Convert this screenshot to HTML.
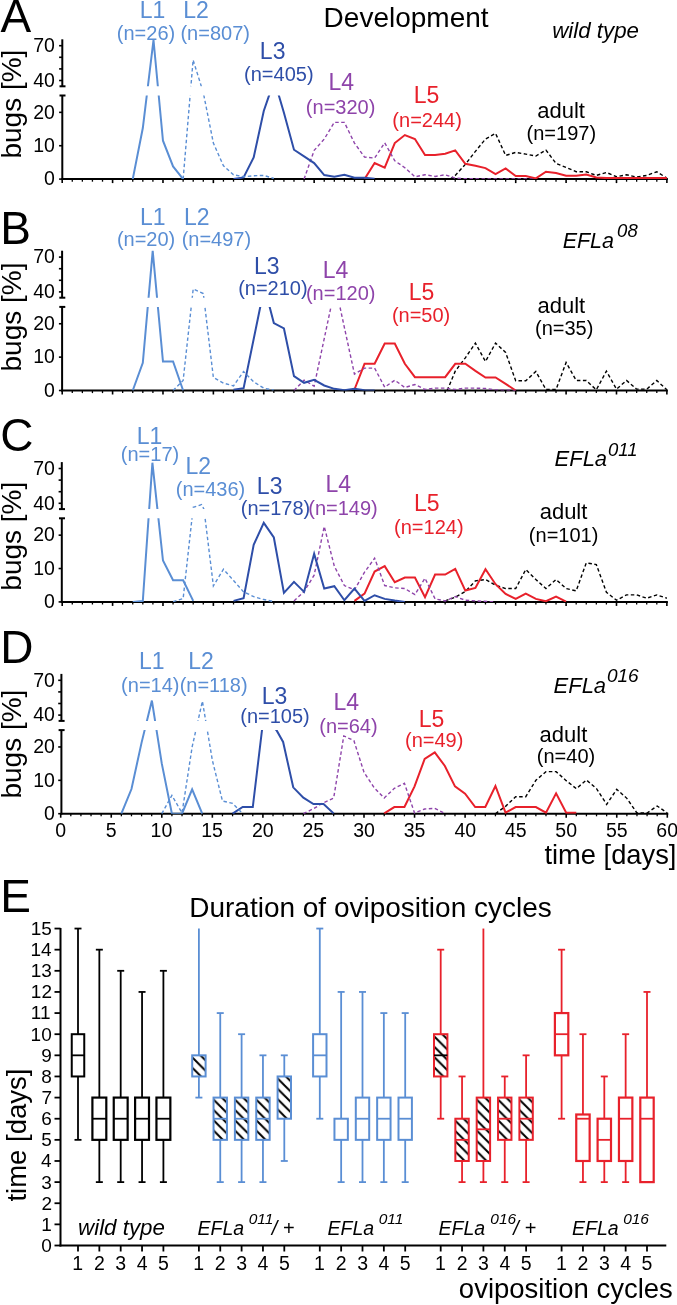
<!DOCTYPE html>
<html><head><meta charset="utf-8"><style>
html,body{margin:0;padding:0;background:#fff;}
body{width:677px;height:1305px;overflow:hidden;font-family:"Liberation Sans",sans-serif;}
svg{display:block;will-change:transform;}
</style></head><body>
<svg width="677" height="1305" viewBox="0 0 677 1305" font-family="Liberation Sans, sans-serif"><text x="0.61" y="31.7" font-size="46" fill="#000000">A</text>
<line x1="61.3" y1="179.1" x2="667.88" y2="179.1" stroke="#000" stroke-width="2"/>
<line x1="62.2" y1="179.1" x2="62.2" y2="183.1" stroke="#000" stroke-width="1.6"/>
<line x1="72.28" y1="179.1" x2="72.28" y2="181.7" stroke="#000" stroke-width="1.3"/>
<line x1="82.36" y1="179.1" x2="82.36" y2="181.7" stroke="#000" stroke-width="1.3"/>
<line x1="92.43" y1="179.1" x2="92.43" y2="181.7" stroke="#000" stroke-width="1.3"/>
<line x1="102.51" y1="179.1" x2="102.51" y2="181.7" stroke="#000" stroke-width="1.3"/>
<line x1="112.59" y1="179.1" x2="112.59" y2="183.1" stroke="#000" stroke-width="1.6"/>
<line x1="122.67" y1="179.1" x2="122.67" y2="181.7" stroke="#000" stroke-width="1.3"/>
<line x1="132.75" y1="179.1" x2="132.75" y2="181.7" stroke="#000" stroke-width="1.3"/>
<line x1="142.82" y1="179.1" x2="142.82" y2="181.7" stroke="#000" stroke-width="1.3"/>
<line x1="152.9" y1="179.1" x2="152.9" y2="181.7" stroke="#000" stroke-width="1.3"/>
<line x1="162.98" y1="179.1" x2="162.98" y2="183.1" stroke="#000" stroke-width="1.6"/>
<line x1="173.06" y1="179.1" x2="173.06" y2="181.7" stroke="#000" stroke-width="1.3"/>
<line x1="183.14" y1="179.1" x2="183.14" y2="181.7" stroke="#000" stroke-width="1.3"/>
<line x1="193.21" y1="179.1" x2="193.21" y2="181.7" stroke="#000" stroke-width="1.3"/>
<line x1="203.29" y1="179.1" x2="203.29" y2="181.7" stroke="#000" stroke-width="1.3"/>
<line x1="213.37" y1="179.1" x2="213.37" y2="183.1" stroke="#000" stroke-width="1.6"/>
<line x1="223.45" y1="179.1" x2="223.45" y2="181.7" stroke="#000" stroke-width="1.3"/>
<line x1="233.53" y1="179.1" x2="233.53" y2="181.7" stroke="#000" stroke-width="1.3"/>
<line x1="243.6" y1="179.1" x2="243.6" y2="181.7" stroke="#000" stroke-width="1.3"/>
<line x1="253.68" y1="179.1" x2="253.68" y2="181.7" stroke="#000" stroke-width="1.3"/>
<line x1="263.76" y1="179.1" x2="263.76" y2="183.1" stroke="#000" stroke-width="1.6"/>
<line x1="273.84" y1="179.1" x2="273.84" y2="181.7" stroke="#000" stroke-width="1.3"/>
<line x1="283.92" y1="179.1" x2="283.92" y2="181.7" stroke="#000" stroke-width="1.3"/>
<line x1="293.99" y1="179.1" x2="293.99" y2="181.7" stroke="#000" stroke-width="1.3"/>
<line x1="304.07" y1="179.1" x2="304.07" y2="181.7" stroke="#000" stroke-width="1.3"/>
<line x1="314.15" y1="179.1" x2="314.15" y2="183.1" stroke="#000" stroke-width="1.6"/>
<line x1="324.23" y1="179.1" x2="324.23" y2="181.7" stroke="#000" stroke-width="1.3"/>
<line x1="334.31" y1="179.1" x2="334.31" y2="181.7" stroke="#000" stroke-width="1.3"/>
<line x1="344.38" y1="179.1" x2="344.38" y2="181.7" stroke="#000" stroke-width="1.3"/>
<line x1="354.46" y1="179.1" x2="354.46" y2="181.7" stroke="#000" stroke-width="1.3"/>
<line x1="364.54" y1="179.1" x2="364.54" y2="183.1" stroke="#000" stroke-width="1.6"/>
<line x1="374.62" y1="179.1" x2="374.62" y2="181.7" stroke="#000" stroke-width="1.3"/>
<line x1="384.7" y1="179.1" x2="384.7" y2="181.7" stroke="#000" stroke-width="1.3"/>
<line x1="394.77" y1="179.1" x2="394.77" y2="181.7" stroke="#000" stroke-width="1.3"/>
<line x1="404.85" y1="179.1" x2="404.85" y2="181.7" stroke="#000" stroke-width="1.3"/>
<line x1="414.93" y1="179.1" x2="414.93" y2="183.1" stroke="#000" stroke-width="1.6"/>
<line x1="425.01" y1="179.1" x2="425.01" y2="181.7" stroke="#000" stroke-width="1.3"/>
<line x1="435.09" y1="179.1" x2="435.09" y2="181.7" stroke="#000" stroke-width="1.3"/>
<line x1="445.16" y1="179.1" x2="445.16" y2="181.7" stroke="#000" stroke-width="1.3"/>
<line x1="455.24" y1="179.1" x2="455.24" y2="181.7" stroke="#000" stroke-width="1.3"/>
<line x1="465.32" y1="179.1" x2="465.32" y2="183.1" stroke="#000" stroke-width="1.6"/>
<line x1="475.4" y1="179.1" x2="475.4" y2="181.7" stroke="#000" stroke-width="1.3"/>
<line x1="485.48" y1="179.1" x2="485.48" y2="181.7" stroke="#000" stroke-width="1.3"/>
<line x1="495.55" y1="179.1" x2="495.55" y2="181.7" stroke="#000" stroke-width="1.3"/>
<line x1="505.63" y1="179.1" x2="505.63" y2="181.7" stroke="#000" stroke-width="1.3"/>
<line x1="515.71" y1="179.1" x2="515.71" y2="183.1" stroke="#000" stroke-width="1.6"/>
<line x1="525.79" y1="179.1" x2="525.79" y2="181.7" stroke="#000" stroke-width="1.3"/>
<line x1="535.87" y1="179.1" x2="535.87" y2="181.7" stroke="#000" stroke-width="1.3"/>
<line x1="545.94" y1="179.1" x2="545.94" y2="181.7" stroke="#000" stroke-width="1.3"/>
<line x1="556.02" y1="179.1" x2="556.02" y2="181.7" stroke="#000" stroke-width="1.3"/>
<line x1="566.1" y1="179.1" x2="566.1" y2="183.1" stroke="#000" stroke-width="1.6"/>
<line x1="576.18" y1="179.1" x2="576.18" y2="181.7" stroke="#000" stroke-width="1.3"/>
<line x1="586.26" y1="179.1" x2="586.26" y2="181.7" stroke="#000" stroke-width="1.3"/>
<line x1="596.33" y1="179.1" x2="596.33" y2="181.7" stroke="#000" stroke-width="1.3"/>
<line x1="606.41" y1="179.1" x2="606.41" y2="181.7" stroke="#000" stroke-width="1.3"/>
<line x1="616.49" y1="179.1" x2="616.49" y2="183.1" stroke="#000" stroke-width="1.6"/>
<line x1="626.57" y1="179.1" x2="626.57" y2="181.7" stroke="#000" stroke-width="1.3"/>
<line x1="636.65" y1="179.1" x2="636.65" y2="181.7" stroke="#000" stroke-width="1.3"/>
<line x1="646.72" y1="179.1" x2="646.72" y2="181.7" stroke="#000" stroke-width="1.3"/>
<line x1="656.8" y1="179.1" x2="656.8" y2="181.7" stroke="#000" stroke-width="1.3"/>
<line x1="666.88" y1="179.1" x2="666.88" y2="183.1" stroke="#000" stroke-width="1.6"/>
<line x1="62.3" y1="180.1" x2="62.3" y2="95.5" stroke="#000" stroke-width="2"/>
<line x1="59.5" y1="95.5" x2="65.5" y2="95.5" stroke="#000" stroke-width="2"/>
<line x1="59.1" y1="179.1" x2="62.3" y2="179.1" stroke="#000" stroke-width="1.6"/>
<line x1="59.1" y1="145.73" x2="62.3" y2="145.73" stroke="#000" stroke-width="1.6"/>
<line x1="59.1" y1="112.36" x2="62.3" y2="112.36" stroke="#000" stroke-width="1.6"/>
<line x1="62.3" y1="86.3" x2="62.3" y2="39.3" stroke="#000" stroke-width="2"/>
<line x1="59.5" y1="86.3" x2="65.5" y2="86.3" stroke="#000" stroke-width="2"/>
<line x1="59.1" y1="80.5" x2="62.3" y2="80.5" stroke="#000" stroke-width="1.6"/>
<line x1="59.1" y1="68.9" x2="62.3" y2="68.9" stroke="#000" stroke-width="1.6"/>
<line x1="59.1" y1="57.3" x2="62.3" y2="57.3" stroke="#000" stroke-width="1.6"/>
<line x1="59.1" y1="45.7" x2="62.3" y2="45.7" stroke="#000" stroke-width="1.6"/>
<text x="44.12" y="185.3" font-size="19.5" fill="#000000">0</text>
<text x="33.27" y="151.93" font-size="19.5" fill="#000000">10</text>
<text x="33.27" y="118.56" font-size="19.5" fill="#000000">20</text>
<text x="33.27" y="86.7" font-size="19.5" fill="#000000">40</text>
<text x="33.27" y="51.9" font-size="19.5" fill="#000000">70</text>
<clipPath id="clp0"><rect x="63" y="95.5" width="610" height="83.6"/><rect x="63" y="36.3" width="610" height="50"/></clipPath>
<g clip-path="url(#clp0)" fill="none" stroke-linejoin="miter" stroke-miterlimit="4">
<path d="M450.2,179.1 L455.24,175.43 L465.32,164.42 L475.4,151.4 L485.48,139.06 L495.55,133.38 L505.63,155.41 L515.71,152.4 L525.79,154.07 L535.87,156.07 L545.94,150.07 L556.02,163.42 L566.1,167.42 L576.18,171.76 L586.26,171.76 L596.33,175.43 L606.41,172.43 L616.49,176.76 L626.57,174.76 L636.65,177.1 L646.72,175.43 L656.8,171.76 L666.88,178.1" stroke="#000000" stroke-width="1.4" stroke-dasharray="3.5,2.5"/>
<path d="M364.54,179.1 L374.62,163.08 L384.7,167.75 L394.77,143.06 L404.85,135.05 L414.93,139.06 L425.01,155.07 L435.09,155.07 L445.16,153.74 L455.24,150.4 L465.32,163.75 L475.4,165.75 L485.48,168.09 L495.55,174.09 L505.63,168.42 L515.71,176.1 L525.79,176.1 L535.87,178.43 L545.94,171.76 L556.02,173.09 L566.1,175.76 L576.18,175.76 L586.26,174.43 L596.33,177.43 L606.41,178.1 L666.88,178.1" stroke="#e8212b" stroke-width="2.0"/>
<path d="M304.07,179.1 L314.15,150.4 L324.23,139.06 L334.31,122.37 L344.38,122.37 L354.46,143.06 L364.54,157.08 L374.62,158.08 L384.7,142.73 L394.77,160.75 L404.85,167.75 L414.93,176.76 L425.01,174.76 L435.09,176.43 L445.16,174.76 L455.24,178.1 L465.32,178.77 L535.87,179.1" stroke="#8e44aa" stroke-width="1.4" stroke-dasharray="3.5,2.5"/>
<path d="M233.53,179.1 L243.6,177.43 L253.68,157.41 L263.76,111.03 L269.2,95.1 L271,89 L277,89 L278.7,95.1 L283.92,112.69 L293.99,149.73 L304.07,156.41 L314.15,163.08 L324.23,175.1 L334.31,176.76 L344.38,174.76 L354.46,177.77 L364.54,177.77 L374.62,178.77" stroke="#2e4ea8" stroke-width="2.0"/>
<path d="M183.14,179.1 L193.1,60 L203.3,92.6 L213.37,143.06 L223.45,165.75 L233.53,174.76 L243.6,176.76 L253.68,175.76 L263.76,175.43 L273.84,178.43" stroke="#5a8ed4" stroke-width="1.4" stroke-dasharray="3.5,2.5"/>
<path d="M132.75,179.1 L142.82,128.04 L153.5,40 L162.98,140.72 L173.06,166.42 L183.14,179.1" stroke="#5a8ed4" stroke-width="2.0"/>
</g>
<text x="139.83" y="17.6" font-size="23" fill="#5a8ed4">L1</text>
<text x="116.82" y="39.7" font-size="20" fill="#5a8ed4">(n=26)</text>
<text x="183.34" y="17.6" font-size="23" fill="#5a8ed4">L2</text>
<text x="180.45" y="39.7" font-size="20" fill="#5a8ed4">(n=807)</text>
<text x="259.87" y="58.8" font-size="23" fill="#2e4ea8">L3</text>
<text x="244.05" y="80.5" font-size="20" fill="#2e4ea8">(n=405)</text>
<text x="328.4" y="89.9" font-size="23" fill="#8e44aa">L4</text>
<text x="305.85" y="113.7" font-size="20" fill="#8e44aa">(n=320)</text>
<text x="413.75" y="103.1" font-size="23" fill="#e8212b">L5</text>
<text x="392.35" y="126.7" font-size="20" fill="#e8212b">(n=244)</text>
<text x="537.26" y="117.9" font-size="22" fill="#000000">adult</text>
<text x="526.55" y="140.2" font-size="20" fill="#000000">(n=197)</text>
<text transform="rotate(-90)" x="-158.58" y="21" font-size="28" fill="#000000">bugs [%]</text>
<text x="552.19" y="38.4" font-size="22.3" fill="#000000" font-style="italic">wild type</text>
<text x="0.23" y="243.6" font-size="46" fill="#000000">B</text>
<line x1="61.1" y1="390.5" x2="667.88" y2="390.5" stroke="#000" stroke-width="2"/>
<line x1="62.2" y1="390.5" x2="62.2" y2="394.5" stroke="#000" stroke-width="1.6"/>
<line x1="72.28" y1="390.5" x2="72.28" y2="393.1" stroke="#000" stroke-width="1.3"/>
<line x1="82.36" y1="390.5" x2="82.36" y2="393.1" stroke="#000" stroke-width="1.3"/>
<line x1="92.43" y1="390.5" x2="92.43" y2="393.1" stroke="#000" stroke-width="1.3"/>
<line x1="102.51" y1="390.5" x2="102.51" y2="393.1" stroke="#000" stroke-width="1.3"/>
<line x1="112.59" y1="390.5" x2="112.59" y2="394.5" stroke="#000" stroke-width="1.6"/>
<line x1="122.67" y1="390.5" x2="122.67" y2="393.1" stroke="#000" stroke-width="1.3"/>
<line x1="132.75" y1="390.5" x2="132.75" y2="393.1" stroke="#000" stroke-width="1.3"/>
<line x1="142.82" y1="390.5" x2="142.82" y2="393.1" stroke="#000" stroke-width="1.3"/>
<line x1="152.9" y1="390.5" x2="152.9" y2="393.1" stroke="#000" stroke-width="1.3"/>
<line x1="162.98" y1="390.5" x2="162.98" y2="394.5" stroke="#000" stroke-width="1.6"/>
<line x1="173.06" y1="390.5" x2="173.06" y2="393.1" stroke="#000" stroke-width="1.3"/>
<line x1="183.14" y1="390.5" x2="183.14" y2="393.1" stroke="#000" stroke-width="1.3"/>
<line x1="193.21" y1="390.5" x2="193.21" y2="393.1" stroke="#000" stroke-width="1.3"/>
<line x1="203.29" y1="390.5" x2="203.29" y2="393.1" stroke="#000" stroke-width="1.3"/>
<line x1="213.37" y1="390.5" x2="213.37" y2="394.5" stroke="#000" stroke-width="1.6"/>
<line x1="223.45" y1="390.5" x2="223.45" y2="393.1" stroke="#000" stroke-width="1.3"/>
<line x1="233.53" y1="390.5" x2="233.53" y2="393.1" stroke="#000" stroke-width="1.3"/>
<line x1="243.6" y1="390.5" x2="243.6" y2="393.1" stroke="#000" stroke-width="1.3"/>
<line x1="253.68" y1="390.5" x2="253.68" y2="393.1" stroke="#000" stroke-width="1.3"/>
<line x1="263.76" y1="390.5" x2="263.76" y2="394.5" stroke="#000" stroke-width="1.6"/>
<line x1="273.84" y1="390.5" x2="273.84" y2="393.1" stroke="#000" stroke-width="1.3"/>
<line x1="283.92" y1="390.5" x2="283.92" y2="393.1" stroke="#000" stroke-width="1.3"/>
<line x1="293.99" y1="390.5" x2="293.99" y2="393.1" stroke="#000" stroke-width="1.3"/>
<line x1="304.07" y1="390.5" x2="304.07" y2="393.1" stroke="#000" stroke-width="1.3"/>
<line x1="314.15" y1="390.5" x2="314.15" y2="394.5" stroke="#000" stroke-width="1.6"/>
<line x1="324.23" y1="390.5" x2="324.23" y2="393.1" stroke="#000" stroke-width="1.3"/>
<line x1="334.31" y1="390.5" x2="334.31" y2="393.1" stroke="#000" stroke-width="1.3"/>
<line x1="344.38" y1="390.5" x2="344.38" y2="393.1" stroke="#000" stroke-width="1.3"/>
<line x1="354.46" y1="390.5" x2="354.46" y2="393.1" stroke="#000" stroke-width="1.3"/>
<line x1="364.54" y1="390.5" x2="364.54" y2="394.5" stroke="#000" stroke-width="1.6"/>
<line x1="374.62" y1="390.5" x2="374.62" y2="393.1" stroke="#000" stroke-width="1.3"/>
<line x1="384.7" y1="390.5" x2="384.7" y2="393.1" stroke="#000" stroke-width="1.3"/>
<line x1="394.77" y1="390.5" x2="394.77" y2="393.1" stroke="#000" stroke-width="1.3"/>
<line x1="404.85" y1="390.5" x2="404.85" y2="393.1" stroke="#000" stroke-width="1.3"/>
<line x1="414.93" y1="390.5" x2="414.93" y2="394.5" stroke="#000" stroke-width="1.6"/>
<line x1="425.01" y1="390.5" x2="425.01" y2="393.1" stroke="#000" stroke-width="1.3"/>
<line x1="435.09" y1="390.5" x2="435.09" y2="393.1" stroke="#000" stroke-width="1.3"/>
<line x1="445.16" y1="390.5" x2="445.16" y2="393.1" stroke="#000" stroke-width="1.3"/>
<line x1="455.24" y1="390.5" x2="455.24" y2="393.1" stroke="#000" stroke-width="1.3"/>
<line x1="465.32" y1="390.5" x2="465.32" y2="394.5" stroke="#000" stroke-width="1.6"/>
<line x1="475.4" y1="390.5" x2="475.4" y2="393.1" stroke="#000" stroke-width="1.3"/>
<line x1="485.48" y1="390.5" x2="485.48" y2="393.1" stroke="#000" stroke-width="1.3"/>
<line x1="495.55" y1="390.5" x2="495.55" y2="393.1" stroke="#000" stroke-width="1.3"/>
<line x1="505.63" y1="390.5" x2="505.63" y2="393.1" stroke="#000" stroke-width="1.3"/>
<line x1="515.71" y1="390.5" x2="515.71" y2="394.5" stroke="#000" stroke-width="1.6"/>
<line x1="525.79" y1="390.5" x2="525.79" y2="393.1" stroke="#000" stroke-width="1.3"/>
<line x1="535.87" y1="390.5" x2="535.87" y2="393.1" stroke="#000" stroke-width="1.3"/>
<line x1="545.94" y1="390.5" x2="545.94" y2="393.1" stroke="#000" stroke-width="1.3"/>
<line x1="556.02" y1="390.5" x2="556.02" y2="393.1" stroke="#000" stroke-width="1.3"/>
<line x1="566.1" y1="390.5" x2="566.1" y2="394.5" stroke="#000" stroke-width="1.6"/>
<line x1="576.18" y1="390.5" x2="576.18" y2="393.1" stroke="#000" stroke-width="1.3"/>
<line x1="586.26" y1="390.5" x2="586.26" y2="393.1" stroke="#000" stroke-width="1.3"/>
<line x1="596.33" y1="390.5" x2="596.33" y2="393.1" stroke="#000" stroke-width="1.3"/>
<line x1="606.41" y1="390.5" x2="606.41" y2="393.1" stroke="#000" stroke-width="1.3"/>
<line x1="616.49" y1="390.5" x2="616.49" y2="394.5" stroke="#000" stroke-width="1.6"/>
<line x1="626.57" y1="390.5" x2="626.57" y2="393.1" stroke="#000" stroke-width="1.3"/>
<line x1="636.65" y1="390.5" x2="636.65" y2="393.1" stroke="#000" stroke-width="1.3"/>
<line x1="646.72" y1="390.5" x2="646.72" y2="393.1" stroke="#000" stroke-width="1.3"/>
<line x1="656.8" y1="390.5" x2="656.8" y2="393.1" stroke="#000" stroke-width="1.3"/>
<line x1="666.88" y1="390.5" x2="666.88" y2="394.5" stroke="#000" stroke-width="1.6"/>
<line x1="62.1" y1="391.5" x2="62.1" y2="306.9" stroke="#000" stroke-width="2"/>
<line x1="59.3" y1="306.9" x2="65.3" y2="306.9" stroke="#000" stroke-width="2"/>
<line x1="58.9" y1="390.5" x2="62.1" y2="390.5" stroke="#000" stroke-width="1.6"/>
<line x1="58.9" y1="357.13" x2="62.1" y2="357.13" stroke="#000" stroke-width="1.6"/>
<line x1="58.9" y1="323.76" x2="62.1" y2="323.76" stroke="#000" stroke-width="1.6"/>
<line x1="62.1" y1="297.7" x2="62.1" y2="250.7" stroke="#000" stroke-width="2"/>
<line x1="59.3" y1="297.7" x2="65.3" y2="297.7" stroke="#000" stroke-width="2"/>
<line x1="58.9" y1="291.9" x2="62.1" y2="291.9" stroke="#000" stroke-width="1.6"/>
<line x1="58.9" y1="280.3" x2="62.1" y2="280.3" stroke="#000" stroke-width="1.6"/>
<line x1="58.9" y1="268.7" x2="62.1" y2="268.7" stroke="#000" stroke-width="1.6"/>
<line x1="58.9" y1="257.1" x2="62.1" y2="257.1" stroke="#000" stroke-width="1.6"/>
<text x="44.12" y="396.7" font-size="19.5" fill="#000000">0</text>
<text x="33.27" y="363.33" font-size="19.5" fill="#000000">10</text>
<text x="33.27" y="329.96" font-size="19.5" fill="#000000">20</text>
<text x="33.27" y="298.1" font-size="19.5" fill="#000000">40</text>
<text x="33.27" y="263.3" font-size="19.5" fill="#000000">70</text>
<clipPath id="clp1"><rect x="63" y="306.9" width="610" height="83.6"/><rect x="63" y="247.7" width="610" height="50"/></clipPath>
<g clip-path="url(#clp1)" fill="none" stroke-linejoin="miter" stroke-miterlimit="4">
<path d="M447.18,390.5 L455.24,371.15 L465.32,357.8 L475.4,343.11 L485.48,361.47 L495.55,343.11 L505.63,352.46 L515.71,380.82 L525.79,380.82 L535.87,371.48 L545.94,389.5 L556.02,389.5 L566.1,362.47 L576.18,380.49 L586.26,380.49 L596.33,389.83 L606.41,371.15 L616.49,389.17 L626.57,380.49 L636.65,389.17 L646.72,389.17 L656.8,380.49 L666.88,389.83" stroke="#000000" stroke-width="1.4" stroke-dasharray="3.5,2.5"/>
<path d="M354.46,389.5 L364.54,363.8 L374.62,363.8 L384.7,343.45 L394.77,343.45 L404.85,363.8 L414.93,377.15 L425.01,377.15 L435.09,377.15 L445.16,377.15 L455.24,363.8 L465.32,363.8 L475.4,370.81 L485.48,377.49 L495.55,377.49 L505.63,383.83 L515.71,390.5" stroke="#e8212b" stroke-width="2.0"/>
<path d="M293.99,390.5 L304.07,380.16 L314.15,386.16 L331,306.7 L332,301.4 L339,301.4 L339.9,306.7 L354.46,374.15 L364.54,368.14 L374.62,368.14 L384.7,387.16 L394.77,380.16 L404.85,387.5 L414.93,384.49 L425.01,389.5 L435.09,388.16 L445.16,388.16 L455.24,389.5 L465.32,388.16 L475.4,388.16 L485.48,388.5 L495.55,389.83 L515.71,390.5" stroke="#8e44aa" stroke-width="1.4" stroke-dasharray="3.5,2.5"/>
<path d="M233.53,389.83 L243.6,388.16 L260.3,306.7 L261.5,301.4 L268.5,301.4 L269.6,306.7 L273.84,323.09 L283.92,328.43 L293.99,376.15 L304.07,382.82 L314.15,379.82 L324.23,385.49 L334.31,388.83 L344.38,390.17 L354.46,388.83 L364.54,390.17 L374.62,390.5" stroke="#2e4ea8" stroke-width="2.0"/>
<path d="M173.06,390.5 L183.14,380.49 L193.2,288.9 L203.3,293.5 L213.37,377.49 L223.45,383.16 L233.53,385.83 L243.6,371.48 L253.68,381.82 L263.76,388.16 L273.84,390.17" stroke="#5a8ed4" stroke-width="1.4" stroke-dasharray="3.5,2.5"/>
<path d="M132.75,390.5 L142.82,362.8 L152.7,250.9 L162.98,361.47 L173.06,361.47 L183.14,390.5" stroke="#5a8ed4" stroke-width="2.0"/>
</g>
<text x="140.03" y="224.5" font-size="23" fill="#5a8ed4">L1</text>
<text x="116.92" y="246" font-size="20" fill="#5a8ed4">(n=20)</text>
<text x="184.04" y="224.5" font-size="23" fill="#5a8ed4">L2</text>
<text x="181.65" y="246" font-size="20" fill="#5a8ed4">(n=497)</text>
<text x="254.07" y="273.6" font-size="23" fill="#2e4ea8">L3</text>
<text x="238.15" y="295" font-size="20" fill="#2e4ea8">(n=210)</text>
<text x="322.8" y="277.8" font-size="23" fill="#8e44aa">L4</text>
<text x="305.95" y="299.5" font-size="20" fill="#8e44aa">(n=120)</text>
<text x="408.65" y="299.5" font-size="23" fill="#e8212b">L5</text>
<text x="391.92" y="322.4" font-size="20" fill="#e8212b">(n=50)</text>
<text x="537.46" y="312.8" font-size="22" fill="#000000">adult</text>
<text x="535.02" y="334.5" font-size="20" fill="#000000">(n=35)</text>
<text transform="rotate(-90)" x="-371.48" y="21" font-size="28" fill="#000000">bugs [%]</text>
<text x="562.64" y="247.8" font-size="21.5" fill="#000000" font-style="italic">EFLa</text>
<text x="617.1" y="236.9" font-size="18.5" fill="#000000" font-style="italic">08</text>
<text x="0.36" y="450.6" font-size="46" fill="#000000">C</text>
<line x1="60.8" y1="601.9" x2="667.88" y2="601.9" stroke="#000" stroke-width="2"/>
<line x1="62.2" y1="601.9" x2="62.2" y2="605.9" stroke="#000" stroke-width="1.6"/>
<line x1="72.28" y1="601.9" x2="72.28" y2="604.5" stroke="#000" stroke-width="1.3"/>
<line x1="82.36" y1="601.9" x2="82.36" y2="604.5" stroke="#000" stroke-width="1.3"/>
<line x1="92.43" y1="601.9" x2="92.43" y2="604.5" stroke="#000" stroke-width="1.3"/>
<line x1="102.51" y1="601.9" x2="102.51" y2="604.5" stroke="#000" stroke-width="1.3"/>
<line x1="112.59" y1="601.9" x2="112.59" y2="605.9" stroke="#000" stroke-width="1.6"/>
<line x1="122.67" y1="601.9" x2="122.67" y2="604.5" stroke="#000" stroke-width="1.3"/>
<line x1="132.75" y1="601.9" x2="132.75" y2="604.5" stroke="#000" stroke-width="1.3"/>
<line x1="142.82" y1="601.9" x2="142.82" y2="604.5" stroke="#000" stroke-width="1.3"/>
<line x1="152.9" y1="601.9" x2="152.9" y2="604.5" stroke="#000" stroke-width="1.3"/>
<line x1="162.98" y1="601.9" x2="162.98" y2="605.9" stroke="#000" stroke-width="1.6"/>
<line x1="173.06" y1="601.9" x2="173.06" y2="604.5" stroke="#000" stroke-width="1.3"/>
<line x1="183.14" y1="601.9" x2="183.14" y2="604.5" stroke="#000" stroke-width="1.3"/>
<line x1="193.21" y1="601.9" x2="193.21" y2="604.5" stroke="#000" stroke-width="1.3"/>
<line x1="203.29" y1="601.9" x2="203.29" y2="604.5" stroke="#000" stroke-width="1.3"/>
<line x1="213.37" y1="601.9" x2="213.37" y2="605.9" stroke="#000" stroke-width="1.6"/>
<line x1="223.45" y1="601.9" x2="223.45" y2="604.5" stroke="#000" stroke-width="1.3"/>
<line x1="233.53" y1="601.9" x2="233.53" y2="604.5" stroke="#000" stroke-width="1.3"/>
<line x1="243.6" y1="601.9" x2="243.6" y2="604.5" stroke="#000" stroke-width="1.3"/>
<line x1="253.68" y1="601.9" x2="253.68" y2="604.5" stroke="#000" stroke-width="1.3"/>
<line x1="263.76" y1="601.9" x2="263.76" y2="605.9" stroke="#000" stroke-width="1.6"/>
<line x1="273.84" y1="601.9" x2="273.84" y2="604.5" stroke="#000" stroke-width="1.3"/>
<line x1="283.92" y1="601.9" x2="283.92" y2="604.5" stroke="#000" stroke-width="1.3"/>
<line x1="293.99" y1="601.9" x2="293.99" y2="604.5" stroke="#000" stroke-width="1.3"/>
<line x1="304.07" y1="601.9" x2="304.07" y2="604.5" stroke="#000" stroke-width="1.3"/>
<line x1="314.15" y1="601.9" x2="314.15" y2="605.9" stroke="#000" stroke-width="1.6"/>
<line x1="324.23" y1="601.9" x2="324.23" y2="604.5" stroke="#000" stroke-width="1.3"/>
<line x1="334.31" y1="601.9" x2="334.31" y2="604.5" stroke="#000" stroke-width="1.3"/>
<line x1="344.38" y1="601.9" x2="344.38" y2="604.5" stroke="#000" stroke-width="1.3"/>
<line x1="354.46" y1="601.9" x2="354.46" y2="604.5" stroke="#000" stroke-width="1.3"/>
<line x1="364.54" y1="601.9" x2="364.54" y2="605.9" stroke="#000" stroke-width="1.6"/>
<line x1="374.62" y1="601.9" x2="374.62" y2="604.5" stroke="#000" stroke-width="1.3"/>
<line x1="384.7" y1="601.9" x2="384.7" y2="604.5" stroke="#000" stroke-width="1.3"/>
<line x1="394.77" y1="601.9" x2="394.77" y2="604.5" stroke="#000" stroke-width="1.3"/>
<line x1="404.85" y1="601.9" x2="404.85" y2="604.5" stroke="#000" stroke-width="1.3"/>
<line x1="414.93" y1="601.9" x2="414.93" y2="605.9" stroke="#000" stroke-width="1.6"/>
<line x1="425.01" y1="601.9" x2="425.01" y2="604.5" stroke="#000" stroke-width="1.3"/>
<line x1="435.09" y1="601.9" x2="435.09" y2="604.5" stroke="#000" stroke-width="1.3"/>
<line x1="445.16" y1="601.9" x2="445.16" y2="604.5" stroke="#000" stroke-width="1.3"/>
<line x1="455.24" y1="601.9" x2="455.24" y2="604.5" stroke="#000" stroke-width="1.3"/>
<line x1="465.32" y1="601.9" x2="465.32" y2="605.9" stroke="#000" stroke-width="1.6"/>
<line x1="475.4" y1="601.9" x2="475.4" y2="604.5" stroke="#000" stroke-width="1.3"/>
<line x1="485.48" y1="601.9" x2="485.48" y2="604.5" stroke="#000" stroke-width="1.3"/>
<line x1="495.55" y1="601.9" x2="495.55" y2="604.5" stroke="#000" stroke-width="1.3"/>
<line x1="505.63" y1="601.9" x2="505.63" y2="604.5" stroke="#000" stroke-width="1.3"/>
<line x1="515.71" y1="601.9" x2="515.71" y2="605.9" stroke="#000" stroke-width="1.6"/>
<line x1="525.79" y1="601.9" x2="525.79" y2="604.5" stroke="#000" stroke-width="1.3"/>
<line x1="535.87" y1="601.9" x2="535.87" y2="604.5" stroke="#000" stroke-width="1.3"/>
<line x1="545.94" y1="601.9" x2="545.94" y2="604.5" stroke="#000" stroke-width="1.3"/>
<line x1="556.02" y1="601.9" x2="556.02" y2="604.5" stroke="#000" stroke-width="1.3"/>
<line x1="566.1" y1="601.9" x2="566.1" y2="605.9" stroke="#000" stroke-width="1.6"/>
<line x1="576.18" y1="601.9" x2="576.18" y2="604.5" stroke="#000" stroke-width="1.3"/>
<line x1="586.26" y1="601.9" x2="586.26" y2="604.5" stroke="#000" stroke-width="1.3"/>
<line x1="596.33" y1="601.9" x2="596.33" y2="604.5" stroke="#000" stroke-width="1.3"/>
<line x1="606.41" y1="601.9" x2="606.41" y2="604.5" stroke="#000" stroke-width="1.3"/>
<line x1="616.49" y1="601.9" x2="616.49" y2="605.9" stroke="#000" stroke-width="1.6"/>
<line x1="626.57" y1="601.9" x2="626.57" y2="604.5" stroke="#000" stroke-width="1.3"/>
<line x1="636.65" y1="601.9" x2="636.65" y2="604.5" stroke="#000" stroke-width="1.3"/>
<line x1="646.72" y1="601.9" x2="646.72" y2="604.5" stroke="#000" stroke-width="1.3"/>
<line x1="656.8" y1="601.9" x2="656.8" y2="604.5" stroke="#000" stroke-width="1.3"/>
<line x1="666.88" y1="601.9" x2="666.88" y2="605.9" stroke="#000" stroke-width="1.6"/>
<line x1="61.8" y1="602.9" x2="61.8" y2="518.3" stroke="#000" stroke-width="2"/>
<line x1="59" y1="518.3" x2="65" y2="518.3" stroke="#000" stroke-width="2"/>
<line x1="58.6" y1="601.9" x2="61.8" y2="601.9" stroke="#000" stroke-width="1.6"/>
<line x1="58.6" y1="568.53" x2="61.8" y2="568.53" stroke="#000" stroke-width="1.6"/>
<line x1="58.6" y1="535.16" x2="61.8" y2="535.16" stroke="#000" stroke-width="1.6"/>
<line x1="61.8" y1="509.1" x2="61.8" y2="462.1" stroke="#000" stroke-width="2"/>
<line x1="59" y1="509.1" x2="65" y2="509.1" stroke="#000" stroke-width="2"/>
<line x1="58.6" y1="503.3" x2="61.8" y2="503.3" stroke="#000" stroke-width="1.6"/>
<line x1="58.6" y1="491.7" x2="61.8" y2="491.7" stroke="#000" stroke-width="1.6"/>
<line x1="58.6" y1="480.1" x2="61.8" y2="480.1" stroke="#000" stroke-width="1.6"/>
<line x1="58.6" y1="468.5" x2="61.8" y2="468.5" stroke="#000" stroke-width="1.6"/>
<text x="44.12" y="608.1" font-size="19.5" fill="#000000">0</text>
<text x="33.27" y="574.73" font-size="19.5" fill="#000000">10</text>
<text x="33.27" y="541.36" font-size="19.5" fill="#000000">20</text>
<text x="33.27" y="509.5" font-size="19.5" fill="#000000">40</text>
<text x="33.27" y="474.7" font-size="19.5" fill="#000000">70</text>
<clipPath id="clp2"><rect x="63" y="518.3" width="610" height="83.6"/><rect x="63" y="459.1" width="610" height="50"/></clipPath>
<g clip-path="url(#clp2)" fill="none" stroke-linejoin="miter" stroke-miterlimit="4">
<path d="M445.16,600.9 L455.24,597.23 L465.32,591.56 L475.4,580.88 L485.48,579.54 L495.55,585.21 L505.63,588.55 L515.71,588.55 L525.79,569.53 L535.87,579.54 L545.94,588.55 L556.02,579.54 L566.1,588.55 L576.18,590.89 L586.26,562.86 L596.33,564.53 L606.41,592.22 L616.49,600.23 L626.57,594.89 L636.65,594.89 L646.72,598.23 L656.8,594.89 L666.88,598.23" stroke="#000000" stroke-width="1.4" stroke-dasharray="3.5,2.5"/>
<path d="M354.46,600.9 L364.54,593.56 L374.62,571.53 L384.7,566.19 L394.77,582.21 L404.85,577.54 L414.93,577.54 L425.01,597.23 L435.09,574.54 L445.16,574.54 L455.24,568.86 L465.32,590.55 L475.4,587.88 L485.48,569.2 L495.55,584.21 L505.63,593.89 L515.71,598.9 L525.79,593.56 L535.87,598.9 L545.94,601.23 L556.02,596.56 L566.1,601.57" stroke="#e8212b" stroke-width="2.0"/>
<path d="M293.99,600.9 L304.07,591.56 L314.15,575.2 L324.23,526.48 L334.31,566.19 L344.38,585.55 L354.46,589.89 L364.54,572.2 L374.62,558.19 L384.7,585.55 L394.77,587.88 L404.85,588.55 L414.93,594.56 L425.01,578.21 L435.09,598.9 L445.16,600.9 L455.24,596.56 L465.32,600.23 L475.4,600.9 L495.55,601.9" stroke="#8e44aa" stroke-width="1.4" stroke-dasharray="3.5,2.5"/>
<path d="M233.53,600.9 L243.6,598.23 L253.68,544.84 L263.76,522.81 L273.84,537.5 L283.92,592.89 L293.99,581.88 L304.07,591.89 L314.15,553.85 L324.23,588.55 L334.31,586.22 L344.38,600.23 L354.46,588.55 L364.54,600.9 L374.62,595.23 L384.7,598.9 L394.77,600.57 L404.85,601.9" stroke="#2e4ea8" stroke-width="2.0"/>
<path d="M173.06,601.57 L183.14,598.56 L193.2,507.3 L201.5,504.6 L204,509.3 L213.37,585.88 L223.45,569.2 L233.53,580.54 L243.6,591.89 L253.68,596.56 L263.76,599.56 L273.84,601.57" stroke="#5a8ed4" stroke-width="1.4" stroke-dasharray="3.5,2.5"/>
<path d="M132.75,601.9 L142.82,600.9 L152.4,462.7 L162.98,560.52 L173.06,580.21 L183.14,580.21 L193.21,600.9" stroke="#5a8ed4" stroke-width="2.0"/>
</g>
<text x="136.83" y="443.8" font-size="23" fill="#5a8ed4">L1</text>
<text x="120.82" y="461.4" font-size="20" fill="#5a8ed4">(n=17)</text>
<text x="185.54" y="473.5" font-size="23" fill="#5a8ed4">L2</text>
<text x="175.75" y="496.1" font-size="20" fill="#5a8ed4">(n=436)</text>
<text x="256.87" y="493.7" font-size="23" fill="#2e4ea8">L3</text>
<text x="240.75" y="515.4" font-size="20" fill="#2e4ea8">(n=178)</text>
<text x="325.4" y="491.8" font-size="23" fill="#8e44aa">L4</text>
<text x="308.25" y="514.7" font-size="20" fill="#8e44aa">(n=149)</text>
<text x="414.05" y="511.4" font-size="23" fill="#e8212b">L5</text>
<text x="394.05" y="533.9" font-size="20" fill="#e8212b">(n=124)</text>
<text x="539.66" y="519" font-size="22" fill="#000000">adult</text>
<text x="528.85" y="542" font-size="20" fill="#000000">(n=101)</text>
<text transform="rotate(-90)" x="-590.68" y="21" font-size="28" fill="#000000">bugs [%]</text>
<text x="554.52" y="466.4" font-size="22" fill="#000000" font-style="italic">EFLa</text>
<text x="608" y="455.9" font-size="18.5" fill="#000000" font-style="italic">011</text>
<text x="0.23" y="663" font-size="46" fill="#000000">D</text>
<line x1="60.4" y1="813.7" x2="668.3" y2="813.7" stroke="#000" stroke-width="2"/>
<line x1="60.7" y1="813.7" x2="60.7" y2="817.7" stroke="#000" stroke-width="1.6"/>
<line x1="70.81" y1="813.7" x2="70.81" y2="816.3" stroke="#000" stroke-width="1.3"/>
<line x1="80.92" y1="813.7" x2="80.92" y2="816.3" stroke="#000" stroke-width="1.3"/>
<line x1="91.03" y1="813.7" x2="91.03" y2="816.3" stroke="#000" stroke-width="1.3"/>
<line x1="101.14" y1="813.7" x2="101.14" y2="816.3" stroke="#000" stroke-width="1.3"/>
<line x1="111.25" y1="813.7" x2="111.25" y2="817.7" stroke="#000" stroke-width="1.6"/>
<line x1="121.36" y1="813.7" x2="121.36" y2="816.3" stroke="#000" stroke-width="1.3"/>
<line x1="131.47" y1="813.7" x2="131.47" y2="816.3" stroke="#000" stroke-width="1.3"/>
<line x1="141.58" y1="813.7" x2="141.58" y2="816.3" stroke="#000" stroke-width="1.3"/>
<line x1="151.69" y1="813.7" x2="151.69" y2="816.3" stroke="#000" stroke-width="1.3"/>
<line x1="161.8" y1="813.7" x2="161.8" y2="817.7" stroke="#000" stroke-width="1.6"/>
<line x1="171.91" y1="813.7" x2="171.91" y2="816.3" stroke="#000" stroke-width="1.3"/>
<line x1="182.02" y1="813.7" x2="182.02" y2="816.3" stroke="#000" stroke-width="1.3"/>
<line x1="192.13" y1="813.7" x2="192.13" y2="816.3" stroke="#000" stroke-width="1.3"/>
<line x1="202.24" y1="813.7" x2="202.24" y2="816.3" stroke="#000" stroke-width="1.3"/>
<line x1="212.35" y1="813.7" x2="212.35" y2="817.7" stroke="#000" stroke-width="1.6"/>
<line x1="222.46" y1="813.7" x2="222.46" y2="816.3" stroke="#000" stroke-width="1.3"/>
<line x1="232.57" y1="813.7" x2="232.57" y2="816.3" stroke="#000" stroke-width="1.3"/>
<line x1="242.68" y1="813.7" x2="242.68" y2="816.3" stroke="#000" stroke-width="1.3"/>
<line x1="252.79" y1="813.7" x2="252.79" y2="816.3" stroke="#000" stroke-width="1.3"/>
<line x1="262.9" y1="813.7" x2="262.9" y2="817.7" stroke="#000" stroke-width="1.6"/>
<line x1="273.01" y1="813.7" x2="273.01" y2="816.3" stroke="#000" stroke-width="1.3"/>
<line x1="283.12" y1="813.7" x2="283.12" y2="816.3" stroke="#000" stroke-width="1.3"/>
<line x1="293.23" y1="813.7" x2="293.23" y2="816.3" stroke="#000" stroke-width="1.3"/>
<line x1="303.34" y1="813.7" x2="303.34" y2="816.3" stroke="#000" stroke-width="1.3"/>
<line x1="313.45" y1="813.7" x2="313.45" y2="817.7" stroke="#000" stroke-width="1.6"/>
<line x1="323.56" y1="813.7" x2="323.56" y2="816.3" stroke="#000" stroke-width="1.3"/>
<line x1="333.67" y1="813.7" x2="333.67" y2="816.3" stroke="#000" stroke-width="1.3"/>
<line x1="343.78" y1="813.7" x2="343.78" y2="816.3" stroke="#000" stroke-width="1.3"/>
<line x1="353.89" y1="813.7" x2="353.89" y2="816.3" stroke="#000" stroke-width="1.3"/>
<line x1="364" y1="813.7" x2="364" y2="817.7" stroke="#000" stroke-width="1.6"/>
<line x1="374.11" y1="813.7" x2="374.11" y2="816.3" stroke="#000" stroke-width="1.3"/>
<line x1="384.22" y1="813.7" x2="384.22" y2="816.3" stroke="#000" stroke-width="1.3"/>
<line x1="394.33" y1="813.7" x2="394.33" y2="816.3" stroke="#000" stroke-width="1.3"/>
<line x1="404.44" y1="813.7" x2="404.44" y2="816.3" stroke="#000" stroke-width="1.3"/>
<line x1="414.55" y1="813.7" x2="414.55" y2="817.7" stroke="#000" stroke-width="1.6"/>
<line x1="424.66" y1="813.7" x2="424.66" y2="816.3" stroke="#000" stroke-width="1.3"/>
<line x1="434.77" y1="813.7" x2="434.77" y2="816.3" stroke="#000" stroke-width="1.3"/>
<line x1="444.88" y1="813.7" x2="444.88" y2="816.3" stroke="#000" stroke-width="1.3"/>
<line x1="454.99" y1="813.7" x2="454.99" y2="816.3" stroke="#000" stroke-width="1.3"/>
<line x1="465.1" y1="813.7" x2="465.1" y2="817.7" stroke="#000" stroke-width="1.6"/>
<line x1="475.21" y1="813.7" x2="475.21" y2="816.3" stroke="#000" stroke-width="1.3"/>
<line x1="485.32" y1="813.7" x2="485.32" y2="816.3" stroke="#000" stroke-width="1.3"/>
<line x1="495.43" y1="813.7" x2="495.43" y2="816.3" stroke="#000" stroke-width="1.3"/>
<line x1="505.54" y1="813.7" x2="505.54" y2="816.3" stroke="#000" stroke-width="1.3"/>
<line x1="515.65" y1="813.7" x2="515.65" y2="817.7" stroke="#000" stroke-width="1.6"/>
<line x1="525.76" y1="813.7" x2="525.76" y2="816.3" stroke="#000" stroke-width="1.3"/>
<line x1="535.87" y1="813.7" x2="535.87" y2="816.3" stroke="#000" stroke-width="1.3"/>
<line x1="545.98" y1="813.7" x2="545.98" y2="816.3" stroke="#000" stroke-width="1.3"/>
<line x1="556.09" y1="813.7" x2="556.09" y2="816.3" stroke="#000" stroke-width="1.3"/>
<line x1="566.2" y1="813.7" x2="566.2" y2="817.7" stroke="#000" stroke-width="1.6"/>
<line x1="576.31" y1="813.7" x2="576.31" y2="816.3" stroke="#000" stroke-width="1.3"/>
<line x1="586.42" y1="813.7" x2="586.42" y2="816.3" stroke="#000" stroke-width="1.3"/>
<line x1="596.53" y1="813.7" x2="596.53" y2="816.3" stroke="#000" stroke-width="1.3"/>
<line x1="606.64" y1="813.7" x2="606.64" y2="816.3" stroke="#000" stroke-width="1.3"/>
<line x1="616.75" y1="813.7" x2="616.75" y2="817.7" stroke="#000" stroke-width="1.6"/>
<line x1="626.86" y1="813.7" x2="626.86" y2="816.3" stroke="#000" stroke-width="1.3"/>
<line x1="636.97" y1="813.7" x2="636.97" y2="816.3" stroke="#000" stroke-width="1.3"/>
<line x1="647.08" y1="813.7" x2="647.08" y2="816.3" stroke="#000" stroke-width="1.3"/>
<line x1="657.19" y1="813.7" x2="657.19" y2="816.3" stroke="#000" stroke-width="1.3"/>
<line x1="667.3" y1="813.7" x2="667.3" y2="817.7" stroke="#000" stroke-width="1.6"/>
<line x1="61.4" y1="814.7" x2="61.4" y2="730.1" stroke="#000" stroke-width="2"/>
<line x1="58.6" y1="730.1" x2="64.6" y2="730.1" stroke="#000" stroke-width="2"/>
<line x1="58.2" y1="813.7" x2="61.4" y2="813.7" stroke="#000" stroke-width="1.6"/>
<line x1="58.2" y1="780.33" x2="61.4" y2="780.33" stroke="#000" stroke-width="1.6"/>
<line x1="58.2" y1="746.96" x2="61.4" y2="746.96" stroke="#000" stroke-width="1.6"/>
<line x1="61.4" y1="720.9" x2="61.4" y2="673.9" stroke="#000" stroke-width="2"/>
<line x1="58.6" y1="720.9" x2="64.6" y2="720.9" stroke="#000" stroke-width="2"/>
<line x1="58.2" y1="715.1" x2="61.4" y2="715.1" stroke="#000" stroke-width="1.6"/>
<line x1="58.2" y1="703.5" x2="61.4" y2="703.5" stroke="#000" stroke-width="1.6"/>
<line x1="58.2" y1="691.9" x2="61.4" y2="691.9" stroke="#000" stroke-width="1.6"/>
<line x1="58.2" y1="680.3" x2="61.4" y2="680.3" stroke="#000" stroke-width="1.6"/>
<text x="44.12" y="819.9" font-size="19.5" fill="#000000">0</text>
<text x="33.27" y="786.53" font-size="19.5" fill="#000000">10</text>
<text x="33.27" y="753.16" font-size="19.5" fill="#000000">20</text>
<text x="33.27" y="721.3" font-size="19.5" fill="#000000">40</text>
<text x="33.27" y="686.5" font-size="19.5" fill="#000000">70</text>
<clipPath id="clp3"><rect x="63" y="730.1" width="610" height="83.6"/><rect x="63" y="670.9" width="610" height="50"/></clipPath>
<g clip-path="url(#clp3)" fill="none" stroke-linejoin="miter" stroke-miterlimit="4">
<path d="M495.43,813.7 L505.54,806.36 L515.65,796.68 L525.76,796.68 L535.87,780.33 L545.98,771.65 L556.09,771.65 L566.2,780.66 L576.31,788.67 L586.42,780 L596.53,788.67 L606.64,804.36 L616.75,789.34 L626.86,798.35 L636.97,813.03 L647.08,813.03 L657.19,806.02 L667.3,813.03" stroke="#000000" stroke-width="1.4" stroke-dasharray="3.5,2.5"/>
<path d="M384.22,813.37 L394.33,807.03 L404.44,807.03 L414.55,786.34 L424.66,758.97 L434.77,752.3 L444.88,765.98 L454.99,786.34 L465.1,793.68 L475.21,807.03 L485.32,807.03 L495.43,786 L505.54,812.7 L515.65,807.03 L525.76,807.03 L535.87,807.03 L545.98,812.7 L556.09,793.34 L566.2,812.7 L576.31,812.7" stroke="#e8212b" stroke-width="2.0"/>
<path d="M303.34,813.7 L313.45,808.69 L323.56,802.69 L333.67,798.02 L343.78,735.95 L353.89,740.62 L364,772.32 L374.11,787.67 L384.22,798.02 L394.33,788.34 L404.44,783.33 L414.55,813.03 L424.66,809.03 L434.77,808.36 L444.88,813.37" stroke="#8e44aa" stroke-width="1.4" stroke-dasharray="3.5,2.5"/>
<path d="M232.57,813.7 L242.68,807.03 L252.79,807.03 L261.9,730.9 L263,724.6 L272,724.6 L276.9,730.9 L283.12,741.95 L293.23,787.34 L303.34,797.68 L313.45,804.02 L323.56,804.02 L333.67,813.37" stroke="#2e4ea8" stroke-width="2.0"/>
<path d="M161.8,813.7 L171.91,795.35 L182.02,813.03 L192.13,746.96 L202.4,701.2 L212.35,760.31 L222.46,801.02 L232.57,803.36 L242.68,813.7" stroke="#5a8ed4" stroke-width="1.4" stroke-dasharray="3.5,2.5"/>
<path d="M121.36,813.7 L131.47,789.01 L141.58,742.62 L151.9,700.6 L161.8,763.65 L171.91,813.7 L182.02,813.7 L192.13,789.34 L202.24,813.7" stroke="#5a8ed4" stroke-width="2.0"/>
</g>
<text x="139.03" y="668.6" font-size="23" fill="#5a8ed4">L1</text>
<text x="121.12" y="691.7" font-size="20" fill="#5a8ed4">(n=14)</text>
<text x="188.34" y="668.6" font-size="23" fill="#5a8ed4">L2</text>
<text x="179.65" y="691.7" font-size="20" fill="#5a8ed4">(n=118)</text>
<text x="261.77" y="703.6" font-size="23" fill="#2e4ea8">L3</text>
<text x="240.25" y="722.8" font-size="20" fill="#2e4ea8">(n=105)</text>
<text x="333.4" y="710.2" font-size="23" fill="#8e44aa">L4</text>
<text x="319.22" y="733.1" font-size="20" fill="#8e44aa">(n=64)</text>
<text x="418.65" y="726.5" font-size="23" fill="#e8212b">L5</text>
<text x="405.02" y="747.2" font-size="20" fill="#e8212b">(n=49)</text>
<text x="539.56" y="742" font-size="22" fill="#000000">adult</text>
<text x="536.82" y="763.2" font-size="20" fill="#000000">(n=40)</text>
<text transform="rotate(-90)" x="-798.58" y="21" font-size="28" fill="#000000">bugs [%]</text>
<text x="553.52" y="693" font-size="22" fill="#000000" font-style="italic">EFLa</text>
<text x="606.97" y="682.3" font-size="19" fill="#000000" font-style="italic">016</text>
<text x="55.28" y="837.3" font-size="19.5" fill="#000000">0</text>
<text x="105.85" y="837.3" font-size="19.5" fill="#000000">5</text>
<text x="150.59" y="837.3" font-size="19.5" fill="#000000">10</text>
<text x="201.17" y="837.3" font-size="19.5" fill="#000000">15</text>
<text x="251.95" y="837.3" font-size="19.5" fill="#000000">20</text>
<text x="302.52" y="837.3" font-size="19.5" fill="#000000">25</text>
<text x="353.16" y="837.3" font-size="19.5" fill="#000000">30</text>
<text x="403.74" y="837.3" font-size="19.5" fill="#000000">35</text>
<text x="454.41" y="837.3" font-size="19.5" fill="#000000">40</text>
<text x="504.99" y="837.3" font-size="19.5" fill="#000000">45</text>
<text x="555.35" y="837.3" font-size="19.5" fill="#000000">50</text>
<text x="605.92" y="837.3" font-size="19.5" fill="#000000">55</text>
<text x="656.34" y="837.3" font-size="19.5" fill="#000000">60</text>
<text x="544.45" y="864" font-size="27.3" fill="#000000">time [days]</text>
<text x="323.6" y="27.4" font-size="28" fill="#000000">Development</text>
<text x="0.13" y="912.3" font-size="46" fill="#000000">E</text>
<text x="189.2" y="917.3" font-size="28" fill="#000000">Duration of oviposition cycles</text>
<line x1="60.5" y1="928.05" x2="60.5" y2="1246.5" stroke="#000" stroke-width="2"/>
<line x1="59.5" y1="1245.5" x2="666.3" y2="1245.5" stroke="#000" stroke-width="2"/>
<line x1="54.5" y1="1245.5" x2="60.5" y2="1245.5" stroke="#000" stroke-width="1.8"/>
<line x1="54.5" y1="1224.37" x2="60.5" y2="1224.37" stroke="#000" stroke-width="1.8"/>
<line x1="54.5" y1="1203.24" x2="60.5" y2="1203.24" stroke="#000" stroke-width="1.8"/>
<line x1="54.5" y1="1182.11" x2="60.5" y2="1182.11" stroke="#000" stroke-width="1.8"/>
<line x1="54.5" y1="1160.98" x2="60.5" y2="1160.98" stroke="#000" stroke-width="1.8"/>
<line x1="54.5" y1="1139.85" x2="60.5" y2="1139.85" stroke="#000" stroke-width="1.8"/>
<line x1="54.5" y1="1118.72" x2="60.5" y2="1118.72" stroke="#000" stroke-width="1.8"/>
<line x1="54.5" y1="1097.59" x2="60.5" y2="1097.59" stroke="#000" stroke-width="1.8"/>
<line x1="54.5" y1="1076.46" x2="60.5" y2="1076.46" stroke="#000" stroke-width="1.8"/>
<line x1="54.5" y1="1055.33" x2="60.5" y2="1055.33" stroke="#000" stroke-width="1.8"/>
<line x1="54.5" y1="1034.2" x2="60.5" y2="1034.2" stroke="#000" stroke-width="1.8"/>
<line x1="54.5" y1="1013.07" x2="60.5" y2="1013.07" stroke="#000" stroke-width="1.8"/>
<line x1="54.5" y1="991.94" x2="60.5" y2="991.94" stroke="#000" stroke-width="1.8"/>
<line x1="54.5" y1="970.81" x2="60.5" y2="970.81" stroke="#000" stroke-width="1.8"/>
<line x1="54.5" y1="949.68" x2="60.5" y2="949.68" stroke="#000" stroke-width="1.8"/>
<line x1="54.5" y1="928.55" x2="60.5" y2="928.55" stroke="#000" stroke-width="1.8"/>
<text x="41.18" y="1251.9" font-size="19" fill="#000000">0</text>
<text x="41.36" y="1230.77" font-size="19" fill="#000000">1</text>
<text x="41.39" y="1209.64" font-size="19" fill="#000000">2</text>
<text x="41.27" y="1188.51" font-size="19" fill="#000000">3</text>
<text x="40.99" y="1167.38" font-size="19" fill="#000000">4</text>
<text x="41.23" y="1146.25" font-size="19" fill="#000000">5</text>
<text x="41.27" y="1125.12" font-size="19" fill="#000000">6</text>
<text x="41.39" y="1103.99" font-size="19" fill="#000000">7</text>
<text x="41.26" y="1082.86" font-size="19" fill="#000000">8</text>
<text x="41.33" y="1061.73" font-size="19" fill="#000000">9</text>
<text x="30.61" y="1040.6" font-size="19" fill="#000000">10</text>
<text x="30.79" y="1019.47" font-size="19" fill="#000000">11</text>
<text x="30.82" y="998.34" font-size="19" fill="#000000">12</text>
<text x="30.7" y="977.21" font-size="19" fill="#000000">13</text>
<text x="30.42" y="956.08" font-size="19" fill="#000000">14</text>
<text x="30.66" y="934.95" font-size="19" fill="#000000">15</text>
<text transform="rotate(-90)" x="-1201.56" y="25.7" font-size="27.5" fill="#000000">time [days]</text>
<defs><pattern id="h1" patternUnits="userSpaceOnUse" width="10.3" height="10.3" x="193.1" y="1058.23"><path d="M-5.15,-5.15 L15.45,15.45 M-5.15,5.15 L5.15,15.45 M5.15,-5.15 L15.45,5.15" stroke="#000" stroke-width="2"/></pattern><pattern id="h2" patternUnits="userSpaceOnUse" width="10.3" height="10.3" x="214.45" y="1100.49"><path d="M-5.15,-5.15 L15.45,15.45 M-5.15,5.15 L5.15,15.45 M5.15,-5.15 L15.45,5.15" stroke="#000" stroke-width="2"/></pattern><pattern id="h3" patternUnits="userSpaceOnUse" width="10.3" height="10.3" x="235.8" y="1100.49"><path d="M-5.15,-5.15 L15.45,15.45 M-5.15,5.15 L5.15,15.45 M5.15,-5.15 L15.45,5.15" stroke="#000" stroke-width="2"/></pattern><pattern id="h4" patternUnits="userSpaceOnUse" width="10.3" height="10.3" x="257.15" y="1100.49"><path d="M-5.15,-5.15 L15.45,15.45 M-5.15,5.15 L5.15,15.45 M5.15,-5.15 L15.45,5.15" stroke="#000" stroke-width="2"/></pattern><pattern id="h5" patternUnits="userSpaceOnUse" width="10.3" height="10.3" x="278.5" y="1079.36"><path d="M-5.15,-5.15 L15.45,15.45 M-5.15,5.15 L5.15,15.45 M5.15,-5.15 L15.45,5.15" stroke="#000" stroke-width="2"/></pattern><pattern id="h6" patternUnits="userSpaceOnUse" width="10.3" height="10.3" x="434.9" y="1037.1"><path d="M-5.15,-5.15 L15.45,15.45 M-5.15,5.15 L5.15,15.45 M5.15,-5.15 L15.45,5.15" stroke="#000" stroke-width="2"/></pattern><pattern id="h7" patternUnits="userSpaceOnUse" width="10.3" height="10.3" x="456.25" y="1121.62"><path d="M-5.15,-5.15 L15.45,15.45 M-5.15,5.15 L5.15,15.45 M5.15,-5.15 L15.45,5.15" stroke="#000" stroke-width="2"/></pattern><pattern id="h8" patternUnits="userSpaceOnUse" width="10.3" height="10.3" x="477.6" y="1100.49"><path d="M-5.15,-5.15 L15.45,15.45 M-5.15,5.15 L5.15,15.45 M5.15,-5.15 L15.45,5.15" stroke="#000" stroke-width="2"/></pattern><pattern id="h9" patternUnits="userSpaceOnUse" width="10.3" height="10.3" x="498.95" y="1100.49"><path d="M-5.15,-5.15 L15.45,15.45 M-5.15,5.15 L5.15,15.45 M5.15,-5.15 L15.45,5.15" stroke="#000" stroke-width="2"/></pattern><pattern id="h10" patternUnits="userSpaceOnUse" width="10.3" height="10.3" x="520.3" y="1100.49"><path d="M-5.15,-5.15 L15.45,15.45 M-5.15,5.15 L5.15,15.45 M5.15,-5.15 L15.45,5.15" stroke="#000" stroke-width="2"/></pattern></defs>
<line x1="78" y1="928.55" x2="78" y2="1034.2" stroke="#000000" stroke-width="1.8"/>
<line x1="78" y1="1076.46" x2="78" y2="1139.85" stroke="#000000" stroke-width="1.8"/>
<line x1="74.5" y1="928.55" x2="81.5" y2="928.55" stroke="#000000" stroke-width="1.8"/>
<line x1="74.5" y1="1139.85" x2="81.5" y2="1139.85" stroke="#000000" stroke-width="1.8"/>
<rect x="71.75" y="1034.2" width="12.5" height="42.26" fill="#fff" stroke="#000000" stroke-width="2.0"/>
<line x1="71.75" y1="1055.33" x2="84.25" y2="1055.33" stroke="#000000" stroke-width="1.8"/>
<line x1="78" y1="1245.5" x2="78" y2="1251.5" stroke="#000" stroke-width="1.8"/>
<line x1="99.35" y1="949.68" x2="99.35" y2="1097.59" stroke="#000000" stroke-width="1.8"/>
<line x1="99.35" y1="1139.85" x2="99.35" y2="1182.11" stroke="#000000" stroke-width="1.8"/>
<line x1="95.85" y1="949.68" x2="102.85" y2="949.68" stroke="#000000" stroke-width="1.8"/>
<line x1="95.85" y1="1182.11" x2="102.85" y2="1182.11" stroke="#000000" stroke-width="1.8"/>
<rect x="92.4" y="1097.59" width="13.9" height="42.26" fill="#fff" stroke="#000000" stroke-width="2.2"/>
<line x1="92.4" y1="1118.72" x2="106.3" y2="1118.72" stroke="#000000" stroke-width="1.8"/>
<line x1="99.35" y1="1245.5" x2="99.35" y2="1251.5" stroke="#000" stroke-width="1.8"/>
<line x1="120.7" y1="970.81" x2="120.7" y2="1097.59" stroke="#000000" stroke-width="1.8"/>
<line x1="120.7" y1="1139.85" x2="120.7" y2="1182.11" stroke="#000000" stroke-width="1.8"/>
<line x1="117.2" y1="970.81" x2="124.2" y2="970.81" stroke="#000000" stroke-width="1.8"/>
<line x1="117.2" y1="1182.11" x2="124.2" y2="1182.11" stroke="#000000" stroke-width="1.8"/>
<rect x="113.75" y="1097.59" width="13.9" height="42.26" fill="#fff" stroke="#000000" stroke-width="2.2"/>
<line x1="113.75" y1="1118.72" x2="127.65" y2="1118.72" stroke="#000000" stroke-width="1.8"/>
<line x1="120.7" y1="1245.5" x2="120.7" y2="1251.5" stroke="#000" stroke-width="1.8"/>
<line x1="142.05" y1="991.94" x2="142.05" y2="1097.59" stroke="#000000" stroke-width="1.8"/>
<line x1="142.05" y1="1139.85" x2="142.05" y2="1182.11" stroke="#000000" stroke-width="1.8"/>
<line x1="138.55" y1="991.94" x2="145.55" y2="991.94" stroke="#000000" stroke-width="1.8"/>
<line x1="138.55" y1="1182.11" x2="145.55" y2="1182.11" stroke="#000000" stroke-width="1.8"/>
<rect x="135.1" y="1097.59" width="13.9" height="42.26" fill="#fff" stroke="#000000" stroke-width="2.2"/>
<line x1="135.1" y1="1118.72" x2="149" y2="1118.72" stroke="#000000" stroke-width="1.8"/>
<line x1="142.05" y1="1245.5" x2="142.05" y2="1251.5" stroke="#000" stroke-width="1.8"/>
<line x1="163.4" y1="970.81" x2="163.4" y2="1097.59" stroke="#000000" stroke-width="1.8"/>
<line x1="163.4" y1="1139.85" x2="163.4" y2="1182.11" stroke="#000000" stroke-width="1.8"/>
<line x1="159.9" y1="970.81" x2="166.9" y2="970.81" stroke="#000000" stroke-width="1.8"/>
<line x1="159.9" y1="1182.11" x2="166.9" y2="1182.11" stroke="#000000" stroke-width="1.8"/>
<rect x="156.45" y="1097.59" width="13.9" height="42.26" fill="#fff" stroke="#000000" stroke-width="2.2"/>
<line x1="156.45" y1="1118.72" x2="170.35" y2="1118.72" stroke="#000000" stroke-width="1.8"/>
<line x1="163.4" y1="1245.5" x2="163.4" y2="1251.5" stroke="#000" stroke-width="1.8"/>
<line x1="198.9" y1="928.55" x2="198.9" y2="1055.33" stroke="#5a8ed4" stroke-width="1.8"/>
<line x1="198.9" y1="1076.46" x2="198.9" y2="1097.59" stroke="#5a8ed4" stroke-width="1.8"/>
<line x1="195.4" y1="1097.59" x2="202.4" y2="1097.59" stroke="#5a8ed4" stroke-width="1.8"/>
<rect x="192.2" y="1055.33" width="13.4" height="21.13" fill="url(#h1)" stroke="#5a8ed4" stroke-width="2.0"/>
<line x1="198.9" y1="1245.5" x2="198.9" y2="1251.5" stroke="#000" stroke-width="1.8"/>
<line x1="220.25" y1="1013.07" x2="220.25" y2="1097.59" stroke="#5a8ed4" stroke-width="1.8"/>
<line x1="220.25" y1="1139.85" x2="220.25" y2="1182.11" stroke="#5a8ed4" stroke-width="1.8"/>
<line x1="216.75" y1="1013.07" x2="223.75" y2="1013.07" stroke="#5a8ed4" stroke-width="1.8"/>
<line x1="216.75" y1="1182.11" x2="223.75" y2="1182.11" stroke="#5a8ed4" stroke-width="1.8"/>
<rect x="213.55" y="1097.59" width="13.4" height="42.26" fill="url(#h2)" stroke="#5a8ed4" stroke-width="2.0"/>
<line x1="213.55" y1="1118.72" x2="226.95" y2="1118.72" stroke="#5a8ed4" stroke-width="1.8"/>
<line x1="220.25" y1="1245.5" x2="220.25" y2="1251.5" stroke="#000" stroke-width="1.8"/>
<line x1="241.6" y1="1034.2" x2="241.6" y2="1097.59" stroke="#5a8ed4" stroke-width="1.8"/>
<line x1="241.6" y1="1139.85" x2="241.6" y2="1182.11" stroke="#5a8ed4" stroke-width="1.8"/>
<line x1="238.1" y1="1034.2" x2="245.1" y2="1034.2" stroke="#5a8ed4" stroke-width="1.8"/>
<line x1="238.1" y1="1182.11" x2="245.1" y2="1182.11" stroke="#5a8ed4" stroke-width="1.8"/>
<rect x="234.9" y="1097.59" width="13.4" height="42.26" fill="url(#h3)" stroke="#5a8ed4" stroke-width="2.0"/>
<line x1="234.9" y1="1118.72" x2="248.3" y2="1118.72" stroke="#5a8ed4" stroke-width="1.8"/>
<line x1="241.6" y1="1245.5" x2="241.6" y2="1251.5" stroke="#000" stroke-width="1.8"/>
<line x1="262.95" y1="1055.33" x2="262.95" y2="1097.59" stroke="#5a8ed4" stroke-width="1.8"/>
<line x1="262.95" y1="1139.85" x2="262.95" y2="1182.11" stroke="#5a8ed4" stroke-width="1.8"/>
<line x1="259.45" y1="1055.33" x2="266.45" y2="1055.33" stroke="#5a8ed4" stroke-width="1.8"/>
<line x1="259.45" y1="1182.11" x2="266.45" y2="1182.11" stroke="#5a8ed4" stroke-width="1.8"/>
<rect x="256.25" y="1097.59" width="13.4" height="42.26" fill="url(#h4)" stroke="#5a8ed4" stroke-width="2.0"/>
<line x1="256.25" y1="1118.72" x2="269.65" y2="1118.72" stroke="#5a8ed4" stroke-width="1.8"/>
<line x1="262.95" y1="1245.5" x2="262.95" y2="1251.5" stroke="#000" stroke-width="1.8"/>
<line x1="284.3" y1="1055.33" x2="284.3" y2="1076.46" stroke="#5a8ed4" stroke-width="1.8"/>
<line x1="284.3" y1="1118.72" x2="284.3" y2="1160.98" stroke="#5a8ed4" stroke-width="1.8"/>
<line x1="280.8" y1="1055.33" x2="287.8" y2="1055.33" stroke="#5a8ed4" stroke-width="1.8"/>
<line x1="280.8" y1="1160.98" x2="287.8" y2="1160.98" stroke="#5a8ed4" stroke-width="1.8"/>
<rect x="277.6" y="1076.46" width="13.4" height="42.26" fill="url(#h5)" stroke="#5a8ed4" stroke-width="2.0"/>
<line x1="284.3" y1="1245.5" x2="284.3" y2="1251.5" stroke="#000" stroke-width="1.8"/>
<line x1="319.8" y1="928.55" x2="319.8" y2="1034.2" stroke="#5a8ed4" stroke-width="1.8"/>
<line x1="319.8" y1="1076.46" x2="319.8" y2="1118.72" stroke="#5a8ed4" stroke-width="1.8"/>
<line x1="316.3" y1="928.55" x2="323.3" y2="928.55" stroke="#5a8ed4" stroke-width="1.8"/>
<line x1="316.3" y1="1118.72" x2="323.3" y2="1118.72" stroke="#5a8ed4" stroke-width="1.8"/>
<rect x="313.1" y="1034.2" width="13.4" height="42.26" fill="#fff" stroke="#5a8ed4" stroke-width="2.0"/>
<line x1="313.1" y1="1055.33" x2="326.5" y2="1055.33" stroke="#5a8ed4" stroke-width="1.8"/>
<line x1="319.8" y1="1245.5" x2="319.8" y2="1251.5" stroke="#000" stroke-width="1.8"/>
<line x1="341.15" y1="991.94" x2="341.15" y2="1118.72" stroke="#5a8ed4" stroke-width="1.8"/>
<line x1="341.15" y1="1139.85" x2="341.15" y2="1182.11" stroke="#5a8ed4" stroke-width="1.8"/>
<line x1="337.65" y1="991.94" x2="344.65" y2="991.94" stroke="#5a8ed4" stroke-width="1.8"/>
<line x1="337.65" y1="1182.11" x2="344.65" y2="1182.11" stroke="#5a8ed4" stroke-width="1.8"/>
<rect x="334.45" y="1118.72" width="13.4" height="21.13" fill="#fff" stroke="#5a8ed4" stroke-width="2.0"/>
<line x1="341.15" y1="1245.5" x2="341.15" y2="1251.5" stroke="#000" stroke-width="1.8"/>
<line x1="362.5" y1="991.94" x2="362.5" y2="1097.59" stroke="#5a8ed4" stroke-width="1.8"/>
<line x1="362.5" y1="1139.85" x2="362.5" y2="1182.11" stroke="#5a8ed4" stroke-width="1.8"/>
<line x1="359" y1="991.94" x2="366" y2="991.94" stroke="#5a8ed4" stroke-width="1.8"/>
<line x1="359" y1="1182.11" x2="366" y2="1182.11" stroke="#5a8ed4" stroke-width="1.8"/>
<rect x="355.8" y="1097.59" width="13.4" height="42.26" fill="#fff" stroke="#5a8ed4" stroke-width="2.0"/>
<line x1="355.8" y1="1118.72" x2="369.2" y2="1118.72" stroke="#5a8ed4" stroke-width="1.8"/>
<line x1="362.5" y1="1245.5" x2="362.5" y2="1251.5" stroke="#000" stroke-width="1.8"/>
<line x1="383.85" y1="1013.07" x2="383.85" y2="1097.59" stroke="#5a8ed4" stroke-width="1.8"/>
<line x1="383.85" y1="1139.85" x2="383.85" y2="1182.11" stroke="#5a8ed4" stroke-width="1.8"/>
<line x1="380.35" y1="1013.07" x2="387.35" y2="1013.07" stroke="#5a8ed4" stroke-width="1.8"/>
<line x1="380.35" y1="1182.11" x2="387.35" y2="1182.11" stroke="#5a8ed4" stroke-width="1.8"/>
<rect x="377.15" y="1097.59" width="13.4" height="42.26" fill="#fff" stroke="#5a8ed4" stroke-width="2.0"/>
<line x1="377.15" y1="1118.72" x2="390.55" y2="1118.72" stroke="#5a8ed4" stroke-width="1.8"/>
<line x1="383.85" y1="1245.5" x2="383.85" y2="1251.5" stroke="#000" stroke-width="1.8"/>
<line x1="405.2" y1="1013.07" x2="405.2" y2="1097.59" stroke="#5a8ed4" stroke-width="1.8"/>
<line x1="405.2" y1="1139.85" x2="405.2" y2="1182.11" stroke="#5a8ed4" stroke-width="1.8"/>
<line x1="401.7" y1="1013.07" x2="408.7" y2="1013.07" stroke="#5a8ed4" stroke-width="1.8"/>
<line x1="401.7" y1="1182.11" x2="408.7" y2="1182.11" stroke="#5a8ed4" stroke-width="1.8"/>
<rect x="398.5" y="1097.59" width="13.4" height="42.26" fill="#fff" stroke="#5a8ed4" stroke-width="2.0"/>
<line x1="398.5" y1="1118.72" x2="411.9" y2="1118.72" stroke="#5a8ed4" stroke-width="1.8"/>
<line x1="405.2" y1="1245.5" x2="405.2" y2="1251.5" stroke="#000" stroke-width="1.8"/>
<line x1="440.7" y1="949.68" x2="440.7" y2="1034.2" stroke="#e8212b" stroke-width="1.8"/>
<line x1="440.7" y1="1076.46" x2="440.7" y2="1118.72" stroke="#e8212b" stroke-width="1.8"/>
<line x1="437.2" y1="949.68" x2="444.2" y2="949.68" stroke="#e8212b" stroke-width="1.8"/>
<line x1="437.2" y1="1118.72" x2="444.2" y2="1118.72" stroke="#e8212b" stroke-width="1.8"/>
<rect x="434" y="1034.2" width="13.4" height="42.26" fill="url(#h6)" stroke="#e8212b" stroke-width="2.0"/>
<line x1="434" y1="1055.33" x2="447.4" y2="1055.33" stroke="#000000" stroke-width="1.8"/>
<line x1="440.7" y1="1245.5" x2="440.7" y2="1251.5" stroke="#000" stroke-width="1.8"/>
<line x1="462.05" y1="1076.46" x2="462.05" y2="1118.72" stroke="#e8212b" stroke-width="1.8"/>
<line x1="462.05" y1="1160.98" x2="462.05" y2="1182.11" stroke="#e8212b" stroke-width="1.8"/>
<line x1="458.55" y1="1076.46" x2="465.55" y2="1076.46" stroke="#e8212b" stroke-width="1.8"/>
<line x1="458.55" y1="1182.11" x2="465.55" y2="1182.11" stroke="#e8212b" stroke-width="1.8"/>
<rect x="455.35" y="1118.72" width="13.4" height="42.26" fill="url(#h7)" stroke="#e8212b" stroke-width="2.0"/>
<line x1="455.35" y1="1139.85" x2="468.75" y2="1139.85" stroke="#e8212b" stroke-width="1.8"/>
<line x1="462.05" y1="1245.5" x2="462.05" y2="1251.5" stroke="#000" stroke-width="1.8"/>
<line x1="483.4" y1="928.55" x2="483.4" y2="1097.59" stroke="#e8212b" stroke-width="1.8"/>
<line x1="483.4" y1="1160.98" x2="483.4" y2="1182.11" stroke="#e8212b" stroke-width="1.8"/>
<line x1="479.9" y1="1182.11" x2="486.9" y2="1182.11" stroke="#e8212b" stroke-width="1.8"/>
<rect x="476.7" y="1097.59" width="13.4" height="63.39" fill="url(#h8)" stroke="#e8212b" stroke-width="2.0"/>
<line x1="476.7" y1="1129.29" x2="490.1" y2="1129.29" stroke="#e8212b" stroke-width="1.8"/>
<line x1="483.4" y1="1245.5" x2="483.4" y2="1251.5" stroke="#000" stroke-width="1.8"/>
<line x1="504.75" y1="1076.46" x2="504.75" y2="1097.59" stroke="#e8212b" stroke-width="1.8"/>
<line x1="504.75" y1="1139.85" x2="504.75" y2="1182.11" stroke="#e8212b" stroke-width="1.8"/>
<line x1="501.25" y1="1076.46" x2="508.25" y2="1076.46" stroke="#e8212b" stroke-width="1.8"/>
<line x1="501.25" y1="1182.11" x2="508.25" y2="1182.11" stroke="#e8212b" stroke-width="1.8"/>
<rect x="498.05" y="1097.59" width="13.4" height="42.26" fill="url(#h9)" stroke="#e8212b" stroke-width="2.0"/>
<line x1="498.05" y1="1118.72" x2="511.45" y2="1118.72" stroke="#e8212b" stroke-width="1.8"/>
<line x1="504.75" y1="1245.5" x2="504.75" y2="1251.5" stroke="#000" stroke-width="1.8"/>
<line x1="526.1" y1="1055.33" x2="526.1" y2="1097.59" stroke="#e8212b" stroke-width="1.8"/>
<line x1="526.1" y1="1139.85" x2="526.1" y2="1182.11" stroke="#e8212b" stroke-width="1.8"/>
<line x1="522.6" y1="1055.33" x2="529.6" y2="1055.33" stroke="#e8212b" stroke-width="1.8"/>
<line x1="522.6" y1="1182.11" x2="529.6" y2="1182.11" stroke="#e8212b" stroke-width="1.8"/>
<rect x="519.4" y="1097.59" width="13.4" height="42.26" fill="url(#h10)" stroke="#e8212b" stroke-width="2.0"/>
<line x1="519.4" y1="1118.72" x2="532.8" y2="1118.72" stroke="#e8212b" stroke-width="1.8"/>
<line x1="526.1" y1="1245.5" x2="526.1" y2="1251.5" stroke="#000" stroke-width="1.8"/>
<line x1="561.6" y1="949.68" x2="561.6" y2="1013.07" stroke="#e8212b" stroke-width="1.8"/>
<line x1="561.6" y1="1055.33" x2="561.6" y2="1118.72" stroke="#e8212b" stroke-width="1.8"/>
<line x1="558.1" y1="949.68" x2="565.1" y2="949.68" stroke="#e8212b" stroke-width="1.8"/>
<line x1="558.1" y1="1118.72" x2="565.1" y2="1118.72" stroke="#e8212b" stroke-width="1.8"/>
<rect x="554.9" y="1013.07" width="13.4" height="42.26" fill="#fff" stroke="#e8212b" stroke-width="2.2"/>
<line x1="554.9" y1="1034.2" x2="568.3" y2="1034.2" stroke="#e8212b" stroke-width="1.8"/>
<line x1="561.6" y1="1245.5" x2="561.6" y2="1251.5" stroke="#000" stroke-width="1.8"/>
<line x1="582.95" y1="1034.2" x2="582.95" y2="1114.49" stroke="#e8212b" stroke-width="1.8"/>
<line x1="582.95" y1="1160.98" x2="582.95" y2="1182.11" stroke="#e8212b" stroke-width="1.8"/>
<line x1="579.45" y1="1034.2" x2="586.45" y2="1034.2" stroke="#e8212b" stroke-width="1.8"/>
<line x1="579.45" y1="1182.11" x2="586.45" y2="1182.11" stroke="#e8212b" stroke-width="1.8"/>
<rect x="576.25" y="1114.49" width="13.4" height="46.49" fill="#fff" stroke="#e8212b" stroke-width="2.2"/>
<line x1="576.25" y1="1118.72" x2="589.65" y2="1118.72" stroke="#e8212b" stroke-width="1.8"/>
<line x1="582.95" y1="1245.5" x2="582.95" y2="1251.5" stroke="#000" stroke-width="1.8"/>
<line x1="604.3" y1="1076.46" x2="604.3" y2="1118.72" stroke="#e8212b" stroke-width="1.8"/>
<line x1="604.3" y1="1160.98" x2="604.3" y2="1182.11" stroke="#e8212b" stroke-width="1.8"/>
<line x1="600.8" y1="1076.46" x2="607.8" y2="1076.46" stroke="#e8212b" stroke-width="1.8"/>
<line x1="600.8" y1="1182.11" x2="607.8" y2="1182.11" stroke="#e8212b" stroke-width="1.8"/>
<rect x="597.6" y="1118.72" width="13.4" height="42.26" fill="#fff" stroke="#e8212b" stroke-width="2.2"/>
<line x1="597.6" y1="1139.85" x2="611" y2="1139.85" stroke="#e8212b" stroke-width="1.8"/>
<line x1="604.3" y1="1245.5" x2="604.3" y2="1251.5" stroke="#000" stroke-width="1.8"/>
<line x1="625.65" y1="1034.2" x2="625.65" y2="1097.59" stroke="#e8212b" stroke-width="1.8"/>
<line x1="625.65" y1="1160.98" x2="625.65" y2="1182.11" stroke="#e8212b" stroke-width="1.8"/>
<line x1="622.15" y1="1034.2" x2="629.15" y2="1034.2" stroke="#e8212b" stroke-width="1.8"/>
<line x1="622.15" y1="1182.11" x2="629.15" y2="1182.11" stroke="#e8212b" stroke-width="1.8"/>
<rect x="618.95" y="1097.59" width="13.4" height="63.39" fill="#fff" stroke="#e8212b" stroke-width="2.2"/>
<line x1="618.95" y1="1118.72" x2="632.35" y2="1118.72" stroke="#e8212b" stroke-width="1.8"/>
<line x1="625.65" y1="1245.5" x2="625.65" y2="1251.5" stroke="#000" stroke-width="1.8"/>
<line x1="647" y1="991.94" x2="647" y2="1097.59" stroke="#e8212b" stroke-width="1.8"/>
<line x1="647" y1="1182.11" x2="647" y2="1182.11" stroke="#e8212b" stroke-width="1.8"/>
<line x1="643.5" y1="991.94" x2="650.5" y2="991.94" stroke="#e8212b" stroke-width="1.8"/>
<rect x="640.3" y="1097.59" width="13.4" height="84.52" fill="#fff" stroke="#e8212b" stroke-width="2.2"/>
<line x1="640.3" y1="1118.72" x2="653.7" y2="1118.72" stroke="#e8212b" stroke-width="1.8"/>
<line x1="647" y1="1245.5" x2="647" y2="1251.5" stroke="#000" stroke-width="1.8"/>
<text x="72.31" y="1270.4" font-size="19.5" fill="#000000">1</text>
<text x="93.93" y="1270.4" font-size="19.5" fill="#000000">2</text>
<text x="115.33" y="1270.4" font-size="19.5" fill="#000000">3</text>
<text x="136.69" y="1270.4" font-size="19.5" fill="#000000">4</text>
<text x="158" y="1270.4" font-size="19.5" fill="#000000">5</text>
<text x="193.21" y="1270.4" font-size="19.5" fill="#000000">1</text>
<text x="214.83" y="1270.4" font-size="19.5" fill="#000000">2</text>
<text x="236.23" y="1270.4" font-size="19.5" fill="#000000">3</text>
<text x="257.59" y="1270.4" font-size="19.5" fill="#000000">4</text>
<text x="278.9" y="1270.4" font-size="19.5" fill="#000000">5</text>
<text x="314.11" y="1270.4" font-size="19.5" fill="#000000">1</text>
<text x="335.73" y="1270.4" font-size="19.5" fill="#000000">2</text>
<text x="357.13" y="1270.4" font-size="19.5" fill="#000000">3</text>
<text x="378.49" y="1270.4" font-size="19.5" fill="#000000">4</text>
<text x="399.8" y="1270.4" font-size="19.5" fill="#000000">5</text>
<text x="435.01" y="1270.4" font-size="19.5" fill="#000000">1</text>
<text x="456.63" y="1270.4" font-size="19.5" fill="#000000">2</text>
<text x="478.03" y="1270.4" font-size="19.5" fill="#000000">3</text>
<text x="499.39" y="1270.4" font-size="19.5" fill="#000000">4</text>
<text x="520.7" y="1270.4" font-size="19.5" fill="#000000">5</text>
<text x="555.91" y="1270.4" font-size="19.5" fill="#000000">1</text>
<text x="577.53" y="1270.4" font-size="19.5" fill="#000000">2</text>
<text x="598.93" y="1270.4" font-size="19.5" fill="#000000">3</text>
<text x="620.29" y="1270.4" font-size="19.5" fill="#000000">4</text>
<text x="641.6" y="1270.4" font-size="19.5" fill="#000000">5</text>
<text x="458.85" y="1298" font-size="27.5" fill="#000000">oviposition cycles</text>
<text x="78.09" y="1234.8" font-size="22.3" fill="#000000" font-style="italic">wild type</text>
<text x="197.6" y="1234.6" font-size="19.5" fill="#000000" font-style="italic">EFLa</text>
<text x="248.73" y="1223.9" font-size="15.5" fill="#000000" font-style="italic">011</text>
<text x="271.73" y="1234.6" font-size="20" fill="#000000" font-style="italic">/ +</text>
<text x="327.5" y="1234.6" font-size="19.5" fill="#000000" font-style="italic">EFLa</text>
<text x="378.63" y="1223.9" font-size="15.5" fill="#000000" font-style="italic">011</text>
<text x="438.5" y="1234.6" font-size="19.5" fill="#000000" font-style="italic">EFLa</text>
<text x="490.33" y="1223.9" font-size="15.5" fill="#000000" font-style="italic">016</text>
<text x="513.33" y="1234.6" font-size="20" fill="#000000" font-style="italic">/ +</text>
<text x="572" y="1234.6" font-size="19.5" fill="#000000" font-style="italic">EFLa</text>
<text x="623.13" y="1223.9" font-size="15.5" fill="#000000" font-style="italic">016</text></svg>
</body></html>
